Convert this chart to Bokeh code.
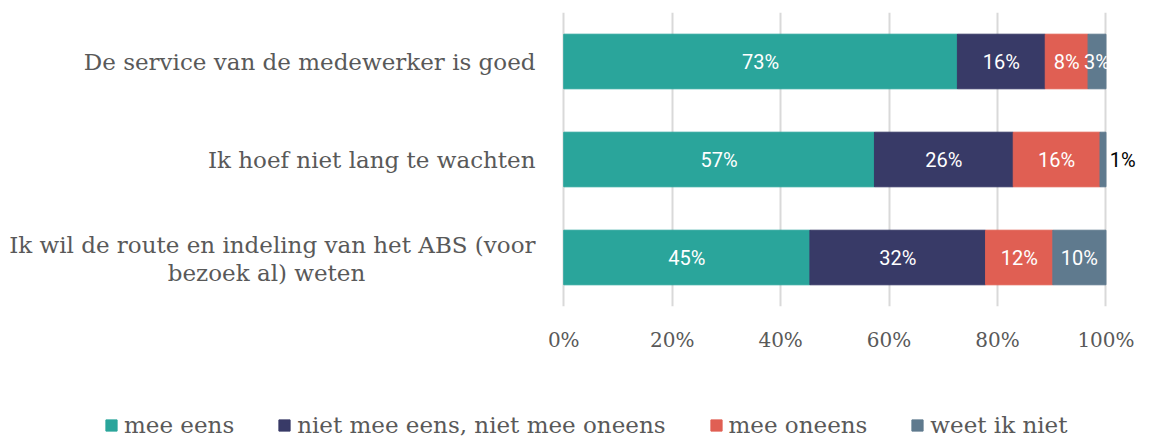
from bokeh.plotting import figure
from bokeh.models import ColumnDataSource, Range1d, FactorRange, Legend, LegendItem
from bokeh.layouts import column, row
from bokeh.core.properties import value
from bokeh.embed import file_html
from bokeh.resources import INLINE

categories = [
    "De service van de medewerker is goed",
    "Ik hoef niet lang te wachten",
    "Ik wil de route en indeling van het ABS (voor bezoek al) weten",
]
series_names = ["mee eens", "niet mee eens, niet mee oneens", "mee oneens", "weet ik niet"]
mee_eens = [72.6, 57.3, 45.4]
neutraal = [16.2, 25.6, 32.4]
mee_oneens = [7.9, 16.0, 12.4]
weet_niet = [3.3, 1.1, 9.8]
bar_labels = [["73%", "16%", "8%", "3%"], ["57%", "26%", "16%", "1%"], ["45%", "32%", "12%", "10%"]]
x_ticks = [0, 20, 40, 60, 80, 100]
x_tick_labels = ["0%", "20%", "40%", "60%", "80%", "100%"]
colors = ["#2aa59b", "#383a67", "#e05f53", "#5f7a8e"]

SERIF = "DejaVu Serif"
GREY = "#595959"

yrange = FactorRange(factors=list(reversed(categories)))

# ---- main bar chart ----
p = figure(width=614, height=370, y_range=yrange, x_range=Range1d(-0.6, 106),
           output_backend="svg", toolbar_location=None,
           min_border_left=20, min_border_right=16, min_border_top=12, min_border_bottom=64)
p.outline_line_color = None

keys = ["s0", "s1", "s2", "s3"]
src = ColumnDataSource({"cat": categories, "s0": mee_eens, "s1": neutraal,
                        "s2": mee_oneens, "s3": weet_niet})
renderers = p.hbar_stack(keys, y="cat", height=0.557, color=colors, line_color=colors,
                         source=src)

series = [mee_eens, neutraal, mee_oneens, weet_niet]
in_x, in_y, in_t, out_x, out_y, out_t = [], [], [], [], [], []
for i, cat in enumerate(categories):
    left = 0.0
    for j in range(4):
        v = series[j][i]
        if v < 2:
            out_x.append(left + v + 0.7)
            out_y.append(cat)
            out_t.append(bar_labels[i][j])
        else:
            in_x.append(left + v / 2)
            in_y.append(cat)
            in_t.append(bar_labels[i][j])
        left += v
p.text(x=in_x, y=in_y, text=in_t, text_color="white", text_align="center",
       text_baseline="middle", text_font=value("Roboto"), text_font_size="20px")
p.text(x=out_x, y=out_y, text=out_t, text_color="black", text_align="left",
       text_baseline="middle", text_font=value("Roboto"), text_font_size="20px")

p.xaxis.ticker = x_ticks
p.xaxis.major_label_overrides = {t: l for t, l in zip(x_ticks, x_tick_labels)}
p.xaxis.axis_line_color = None
p.xaxis.major_tick_line_color = None
p.xaxis.minor_tick_line_color = None
p.xaxis.major_label_text_font = SERIF
p.xaxis.major_label_text_font_size = "20px"
p.xaxis.major_label_text_color = GREY
p.xaxis.major_label_standoff = 15

p.yaxis.visible = False
p.ygrid.grid_line_color = None
p.xgrid.grid_line_color = "#d9d9d9"
p.xgrid.grid_line_width = 2
p.xgrid.ticker = x_ticks

# ---- category labels panel ----
lab = figure(width=540, height=370, y_range=yrange, x_range=Range1d(0, 540),
             output_backend="svg", toolbar_location=None,
             min_border_left=0, min_border_right=0, min_border_top=12, min_border_bottom=64)
lab.outline_line_color = None
lab.axis.visible = False
lab.grid.visible = False
line_sets = [
    [categories[0]],
    [categories[1]],
    ["Ik wil de route en indeling van het ABS (voor", "bezoek al) weten"],
]
for cat, lines in zip(categories, line_sets):
    if len(lines) == 1:
        lab.text(x=[535], y=[cat], text=[lines[0]], text_align="right", text_baseline="middle",
                 text_font=value(SERIF), text_font_size="23px", text_color=GREY)
    else:
        lab.text(x=[535], y=[cat], text=[lines[0]], text_align="right", text_baseline="middle",
                 y_offset=-13, text_font=value(SERIF), text_font_size="23px", text_color=GREY)
        lab.text(x=[266], y=[cat], text=[lines[1]], text_align="center", text_baseline="middle",
                 y_offset=15, text_font=value(SERIF), text_font_size="23px", text_color=GREY)

# ---- legend panel ----
leg = figure(width=1154, height=68, x_range=Range1d(0, 1), y_range=Range1d(0, 1),
             output_backend="svg", toolbar_location=None,
             min_border_left=0, min_border_right=0, min_border_top=0, min_border_bottom=0)
leg.outline_line_color = None
leg.axis.visible = False
leg.grid.visible = False
dummies = [leg.quad(left=[5], right=[6], bottom=[5], top=[6], color=c) for c in colors]
legend = Legend(items=[LegendItem(label=nm, renderers=[r]) for nm, r in zip(series_names, dummies)],
                orientation="horizontal", location=(104, 0),
                label_text_font=SERIF, label_text_font_size="23px", label_text_color=GREY,
                glyph_width=14, glyph_height=14, label_standoff=6, spacing=43,
                border_line_color=None, background_fill_alpha=0, margin=0, padding=6)
leg.add_layout(legend)

layout = column(row(lab, p), leg)
open("out.html", "w").write(file_html(layout, INLINE))
